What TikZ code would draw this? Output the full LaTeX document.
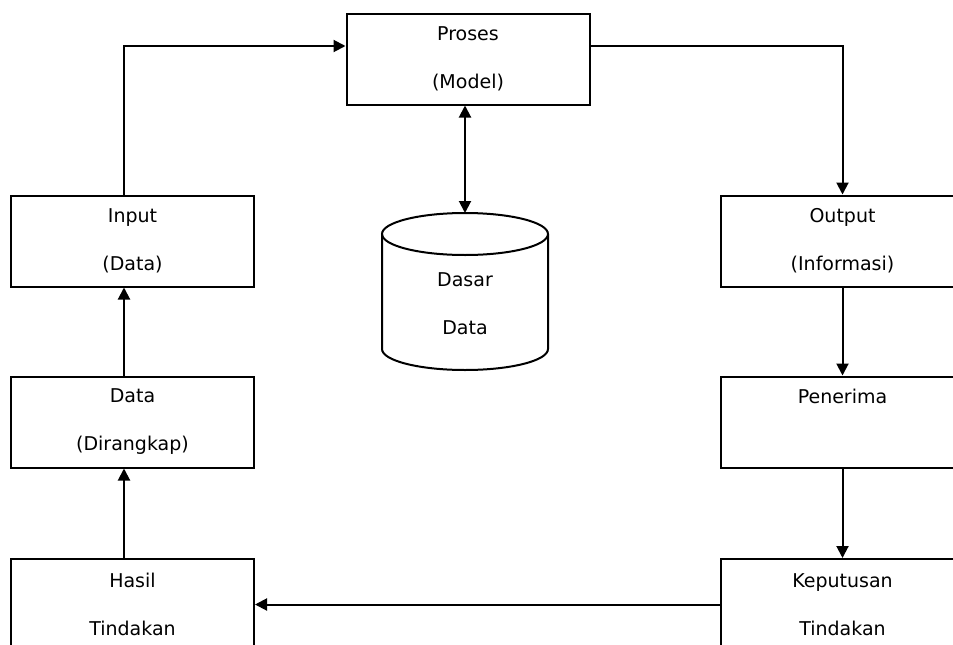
\documentclass[tikz,border=0pt]{standalone}
\usepackage{fontspec}
\setmainfont{DejaVu Sans}
\usetikzlibrary{calc}
\usetikzlibrary{arrows.meta}

\begin{document}
\begin{tikzpicture}[x=1pt,y=-1pt,
    box/.style={draw,line width=2pt,minimum width=243pt,minimum height=91pt,
      align=center,inner sep=0pt,font=\fontsize{19}{48}\selectfont},
    arr/.style={draw,line width=2pt,-{Triangle[length=12pt,width=12pt]}},
    arrboth/.style={draw,line width=2pt,{Triangle[length=12pt,width=12pt]}-{Triangle[length=12pt,width=12pt]}}]
    \useasboundingbox (0,0) rectangle (953,645);
    \clip (0,0) rectangle (953,645);
    \node[box] (Proses)    at (468,   59) {Proses\\(Model)};
    \node[box] (Input)     at (132.5, 241) {Input\\(Data)};
    \node[box] (Data)      at (132.5, 422) {Data\\(Dirangkap)};
    \node[box] (Hasil)     at (132.5, 604.5) {Hasil\\Tindakan};
    \node[box] (Output)    at (842.5, 241) {Output\\(Informasi)};
    \node[box] (Penerima)  at (842.5, 422) {Penerima\\\phantom{(}};
    \node[box] (Keputusan) at (842.5, 604.5) {Keputusan\\Tindakan};
    % basis data
    \draw[line width=2pt] (465,234) ellipse [x radius=83, y radius=21];
    \draw[line width=2pt] (382,234) -- (382,349) arc[start angle=180, end angle=360, x radius=83, y radius=-21] -- (548,234);
    \coordinate (dbtop) at (465,213);
    \node[align=center,font=\fontsize{19}{48}\selectfont] (Dasar) at (465,303.5) {Dasar\\Data};
    \draw[arr] ([xshift=-8.5pt]Input.north) |- ([yshift=13pt]Proses.west);
    \draw[arr] ([yshift=13pt]Proses.east) -| (Output.north);
    \draw[arrboth] ([xshift=-3pt]Proses.south) -- (dbtop);
    \draw[arr] (Output) -- (Penerima);
    \draw[arr] (Penerima) -- (Keputusan);
    \draw[arr] (Keputusan) -- (Hasil);
    \draw[arr] ([xshift=-8.5pt]Hasil.north) -- ([xshift=-8.5pt]Data.south);
    \draw[arr] ([xshift=-8.5pt]Data.north) -- ([xshift=-8.5pt]Input.south);
  \end{tikzpicture}
\end{document}
